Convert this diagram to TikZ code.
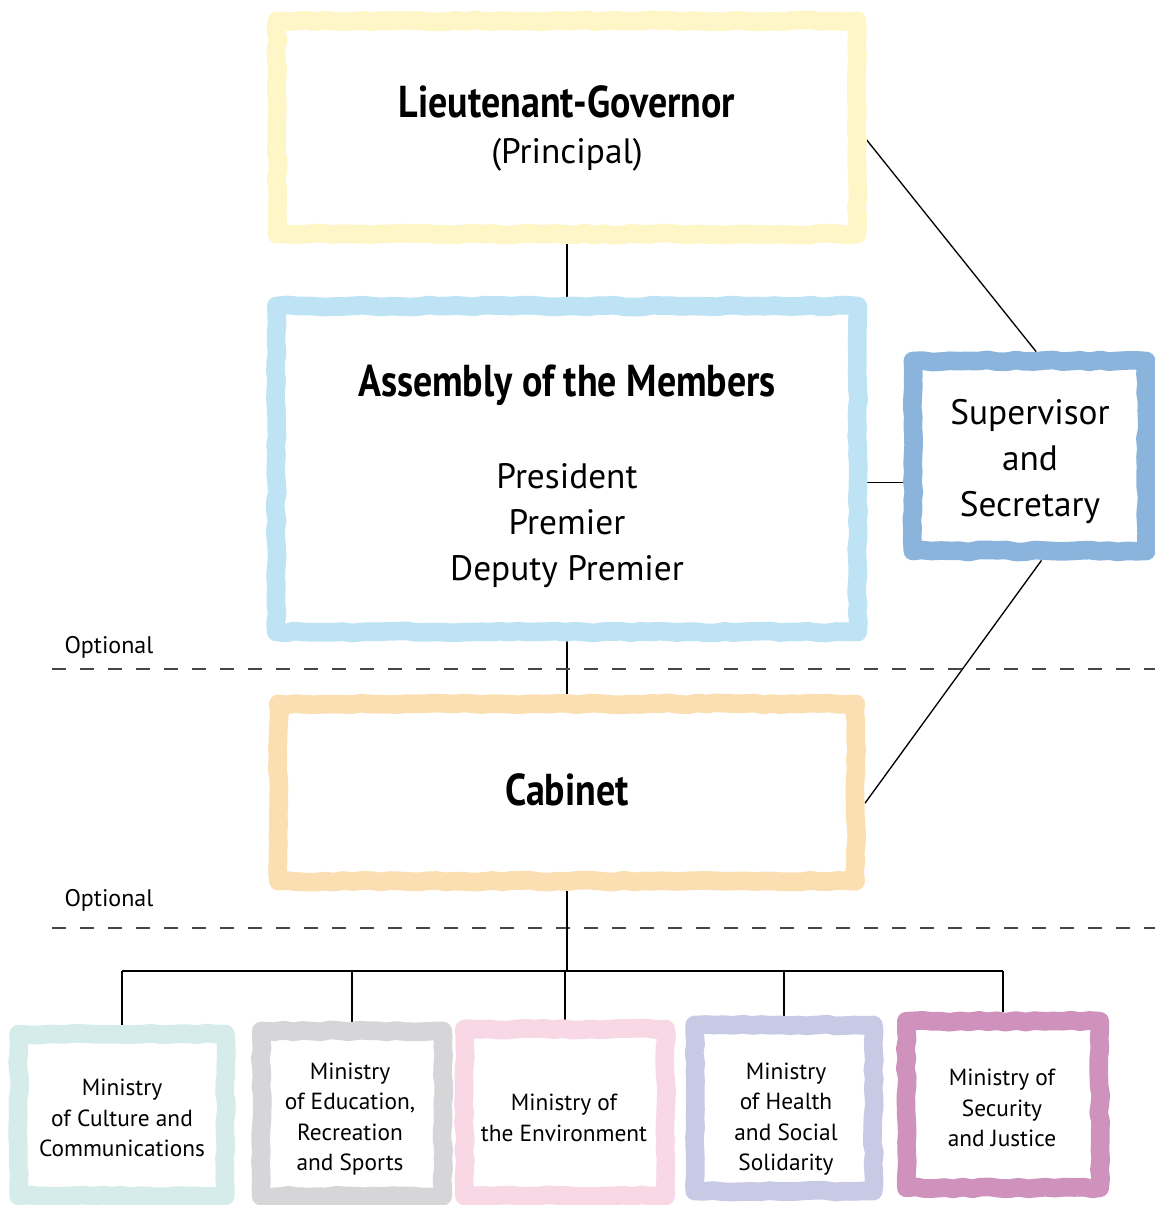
\documentclass[tikz,border=0pt]{standalone}
\usepackage{fontspec}
\setmainfont{PT Sans}
\newfontfamily\headfont[FakeStretch=0.85]{PT Sans}
\usetikzlibrary{backgrounds,decorations.pathmorphing}

\definecolor{lgyellow}{RGB}{255,246,200}
\definecolor{asmblue}{RGB}{190,227,245}
\definecolor{supblue}{RGB}{138,180,220}
\definecolor{cabpeach}{RGB}{251,223,178}
\definecolor{culteal}{RGB}{214,236,234}
\definecolor{edugray}{RGB}{214,214,216}
\definecolor{envpink}{RGB}{247,216,228}
\definecolor{heallav}{RGB}{200,201,228}
\definecolor{secmauve}{RGB}{207,146,188}
\definecolor{dashgray}{RGB}{70,70,70}

\newcommand{\headtxt}[1]{{\headfont\bfseries\fontsize{33.5}{36}\selectfont #1}}

\tikzset{every picture/.style={line width=0.75pt}}
\tikzset{
  brush/.style={draw=#1, fill=white, line width=14pt, line join=round, inner sep=0pt,
    decorate, decoration={random steps, segment length=7pt, amplitude=0.8pt}},
  bigtxt/.style={align=center, inner sep=0pt, font=\fontsize{26.5}{34.5}\selectfont},
  smalltxt/.style={align=center, inner sep=0pt, font=\fontsize{17.5}{22.8}\selectfont},
  link/.style={line width=1.5pt},
  thinlink/.style={line width=1pt},
  optline/.style={draw=dashgray, line width=1.5pt, dash pattern={on 10.5pt off 10.5pt}}
}

\begin{document}
\begin{tikzpicture}[x=0.75pt,y=0.75pt,yscale=-1,xscale=1]
\pgfmathsetseed{7}
\useasboundingbox (0,0) rectangle (1155,1205);

%Shape: Frames
\node [brush=lgyellow, minimum width=435pt, minimum height=160pt] (lg) at (567,127.5) {};
\node [brush=asmblue, minimum width=436pt, minimum height=244.5pt] (asm) at (567,469) {};
\node [brush=supblue, minimum width=175pt, minimum height=142.5pt] (sup) at (1029.5,456) {};
\node [brush=cabpeach, minimum width=433pt, minimum height=133pt] (cab) at (567,792.5) {};
%Shape: Ministries
\node [brush=culteal, minimum width=155pt, minimum height=121.5pt] (cult) at (122,1115) {};
\node [brush=edugray, minimum width=136pt, minimum height=124pt] (edu) at (352,1113.5) {};
\node [brush=envpink, minimum width=151pt, minimum height=125pt] (env) at (565,1112.5) {};
\node [brush=heallav, minimum width=134pt, minimum height=124.5pt] (heal) at (784,1108) {};
\node [brush=secmauve, minimum width=145pt, minimum height=125pt] (sec) at (1003,1104.5) {};

% Text Node
\node [bigtxt] (lg-txt) at (567,128) {\headtxt{Lieutenant-Governor}\\ (Principal)};
% Text Node
\node [bigtxt] (asm-txt) at (567,476) {\headtxt{Assembly of the Members}\\[34.5pt] President\\ Premier\\ Deputy Premier};
% Text Node
\node [bigtxt] (sup-txt) at (1030,462) {Supervisor\\ and\\ Secretary};
% Text Node
\node [bigtxt] (cab-txt) at (567,790) {\headtxt{Cabinet}};
% Text Node
\node [smalltxt] (cult-txt) at (122,1118) {Ministry\\ of Culture and\\ Communications};
% Text Node
\node [smalltxt] (edu-txt) at (350,1119) {Ministry\\ of Education,\\ Recreation\\ and Sports};
% Text Node
\node [smalltxt] (env-txt) at (564,1118) {Ministry of\\ the Environment};
% Text Node
\node [smalltxt] (heal-txt) at (786,1119) {Ministry\\ of Health\\ and Social\\ Solidarity};
% Text Node
\node [smalltxt] (sec-txt) at (1002,1108) {Ministry of\\ Security\\ and Justice};
% Text Node
\node [anchor=west, inner sep=0.75pt, font=\fontsize{18}{20}\selectfont] (opt1) at (63,647) {Optional};
% Text Node
\node [anchor=west, inner sep=0.75pt, font=\fontsize{18}{20}\selectfont] (opt2) at (63,900) {Optional};

\begin{scope}[on background layer]
%Straight Lines
\draw [link] (lg.south) -- (asm.north);
\draw [link] (asm.south) -- (cab.north);
\draw [thinlink] ([yshift=9pt]lg.east) -- ([xshift=5pt]sup.north);
\draw [thinlink] ([yshift=10pt]asm.east) -- ([yshift=10pt]asm.east -| sup.west);
\draw [thinlink] ([xshift=9pt]sup.south) -- ([yshift=8pt]cab.east);
%Dashed Lines
\draw [optline] (52,669) -- (1155,669);
\draw [optline] (52,928) -- (1155,928);
%Bus Lines
\coordinate (bus) at (567,971);
\draw [link] (cab.south) -- (bus);
\draw [link] (bus -| cult.north) -- (bus -| sec.north);
\foreach \m in {cult,edu,env,heal,sec}
  \draw [link] (bus -| \m.north) -- (\m.north);
\end{scope}

\end{tikzpicture}
\end{document}
